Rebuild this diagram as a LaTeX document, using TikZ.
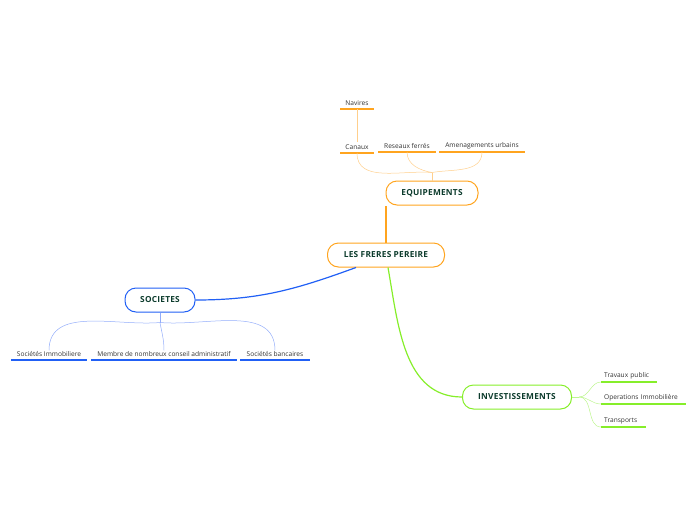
\documentclass[tikz,border=0pt]{standalone}
\usepackage{fontspec}
\setmainfont{Open Sans}
\usepackage{xcolor}
\usepackage{tikz}
\usetikzlibrary{positioning, arrows.meta, calc}

\definecolor{orgA}{HTML}{FFA41F}
\definecolor{orgB}{HTML}{FFCF8C}
\definecolor{bluA}{HTML}{2160F5}
\definecolor{bluB}{HTML}{93ADFA}
\definecolor{grnA}{HTML}{86EE2A}
\definecolor{grnB}{HTML}{BDF58F}
\definecolor{topic}{HTML}{0C3B2C}

\begin{document}
\begin{tikzpicture}[x=1pt, y=-1pt,
  main/.style={draw, line width=1pt, rounded corners=11pt, minimum height=24pt,
               inner xsep=10pt, text=topic,
               font=\fontsize{8.3}{10}\selectfont\bfseries\addfontfeatures{LetterSpace=3}},
  leaf/.style={anchor=south, inner sep=3pt, text=black!80,
               font=\fontsize{6.6}{8}\selectfont,
               append after command={(\tikzlastnode.south west) edge[draw=#1, line width=1.3pt]
                                     (\tikzlastnode.south east)}},
  twig/.style={draw=#1, line width=0.5pt}]
  \useasboundingbox (0,0) rectangle (696,520);
  % topics
  \node[main, draw=orgA, minimum width=117pt] (root) at (386,255) {LES FRERES PEREIRE};
  \node[main, draw=orgA, minimum width=92pt] (equip) at (432,193) {EQUIPEMENTS};
  \node[main, draw=bluA, minimum width=70pt] (soc) at (160,300) {SOCIETES};
  \node[main, draw=grnA, minimum width=109pt] (inv) at (517,397) {INVESTISSEMENTS};
  % subtopics
  \foreach \n/\x/\y/\w/\t in {nav/357/109/33/Navires, can/357/153/33/Canaux,
                              res/407/152/57/Reseaux ferrés, ame/482/152/85/Amenagements urbains}
     \node[leaf=orgA, minimum width=\w] (\n) at (\x,\y) {\t};
  \foreach \n/\x/\w/\t in {simm/49/76/Sociétés Immobiliere,
                           memb/164/146/Membre de nombreux conseil administratif,
                           sban/275/69/Sociétés bancaires}
     \node[leaf=bluA, minimum width=\w] (\n) at (\x,360) {\t};
  \foreach \n/\y/\w/\t in {trav/382/50pt/Travaux public, oper/404/79pt/Operations Immobilière,
                           tran/427/39pt/Transports}
     \node[leaf=grnA, text width=\w, align=left, anchor=south west] (\n) at (601,\y) {\t};
  % main branches
  \draw[orgA, line width=1.2pt] (root.north) -- (root.north |- equip.south);
  \draw[bluA, line width=1.2pt] ([xshift=-30pt]root.south) to[out=200, in=0] (soc.east);
  \draw[grnA, line width=1.2pt] ([xshift=2pt]root.south) to[out=-80, in=180] (inv.west);
  % twigs
  \coordinate (ej) at ($(equip.north)+(0,-8)$);
  \draw[twig=orgB] (equip.north) -- (ej);
  \foreach \n/\o in {can/175, res/170, ame/10}
     \draw[twig=orgB] (ej) to[out=\o, in=-90] (\n.south);
  \draw[twig=orgB] (nav.south) -- (can.north);
  \coordinate (sj) at ($(soc.south)+(0,10)$);
  \draw[twig=bluB] (soc.south) -- (sj);
  \foreach \n/\o in {simm/185, memb/-80, sban/-5}
     \draw[twig=bluB] (sj) to[out=\o, in=90] ([yshift=-2pt]\n.north);
  \coordinate (ij) at ($(inv.east)+(7,0)$);
  \draw[twig=grnB] (inv.east) -- (ij);
  \foreach \n in {trav, oper, tran}
     \draw[twig=grnB] (ij) to[out=0, in=180] (\n.south west);
\end{tikzpicture}
\end{document}
